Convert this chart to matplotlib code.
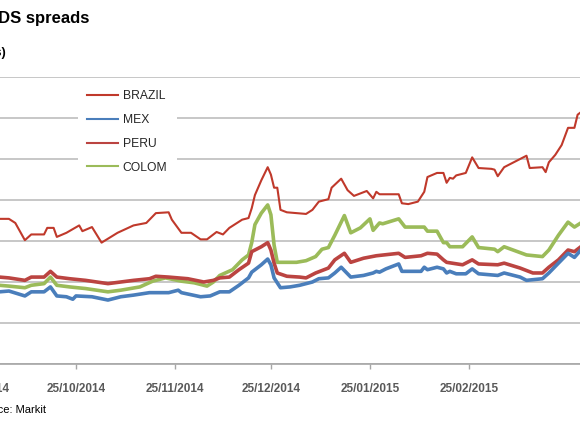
import matplotlib
matplotlib.use("Agg")
import matplotlib.pyplot as plt
import matplotlib.dates as mdates
from matplotlib.lines import Line2D
import pandas as pd

plt.rcParams['font.family'] = ['Liberation Sans', 'DejaVu Sans']

# ---- data (days relative to 25/10/2014, spreads in bps) ----
BASE = pd.Timestamp('2014-10-25')

brazil_days = [-24, -21, -19, -16, -14, -10, -9, -7, -6, -3, 1, 2, 5, 8, 13, 18, 22, 25, 29, 30,
               33, 36, 39, 41, 44, 46, 48, 52, 54, 55, 56, 58, 60, 61, 62, 63, 64, 66, 69, 72,
               74, 76, 79, 80, 83, 85, 87, 91, 93, 94, 95, 101, 102, 104, 107, 109, 110, 113, 115, 116,
               117, 118, 119, 122, 124, 126, 130, 131, 132, 134, 141, 142, 146, 147, 148, 150, 152, 154, 156, 157,
               158]
brazil_vals = [177, 177, 172, 151, 158, 158, 166, 166, 155, 160, 169, 162, 167, 148, 160, 169, 172, 184, 185, 176,
               160, 160, 152, 152, 161, 158, 166, 176, 178, 190, 206, 224, 240, 231, 215, 215, 188, 185, 184, 183,
               188, 198, 201, 215, 226, 212, 205, 211, 202, 210, 207, 207, 196, 195, 198, 210, 228, 233, 233, 221,
               227, 226, 230, 233, 252, 239, 238, 237, 229, 240, 254, 239, 240, 234, 246, 255, 267, 288, 288, 304,
               307]

mex_days = [-24, -21, -16, -14, -10, -8, -6, -3, -1, 0, 5, 10, 14, 18, 23, 29, 32, 33, 39, 42,
            45, 48, 51, 54, 55, 58, 60, 61, 62, 64, 67, 70, 74, 76, 79, 81, 83, 86, 90, 93,
            94, 95, 97, 101, 102, 108, 109, 110, 113, 115, 116, 117, 119, 122, 124, 126, 132, 134, 139, 141,
            146, 148, 151, 154, 156, 158]
mex_vals = [88, 89, 83, 88, 88, 94, 83, 82, 79, 83, 82, 78, 82, 84, 87, 87, 90, 87, 82, 83,
            88, 88, 96, 105, 112, 121, 128, 121, 105, 93, 94, 96, 100, 104, 105, 111, 118, 106, 108, 111,
            113, 112, 116, 122, 113, 113, 118, 115, 118, 116, 111, 113, 110, 110, 116, 110, 108, 111, 106, 102,
            104, 111, 123, 135, 130, 139]

peru_days = [-24, -21, -16, -14, -10, -8, -6, -2, 3, 10, 14, 18, 23, 25, 29, 35, 40, 43, 45, 48,
             51, 54, 55, 58, 60, 61, 62, 63, 66, 70, 72, 75, 79, 81, 84, 86, 90, 94, 101, 103,
             108, 110, 113, 115, 116, 121, 124, 126, 132, 134, 139, 143, 146, 148, 151, 154, 156, 158]
peru_vals = [106, 105, 102, 106, 106, 113, 106, 104, 102, 98, 100, 102, 104, 107, 106, 104, 100, 102, 105, 106,
             115, 123, 137, 143, 148, 139, 123, 111, 107, 106, 105, 111, 117, 127, 135, 124, 129, 132, 135, 130,
             132, 135, 134, 127, 124, 121, 127, 122, 121, 123, 117, 111, 111, 118, 127, 139, 137, 143]

colom_days = [-24, -21, -16, -14, -10, -8, -6, -2, 3, 10, 14, 20, 24, 28, 33, 37, 41, 43, 45, 49,
              52, 54, 55, 56, 58, 60, 61, 62, 63, 69, 72, 75, 77, 79, 81, 84, 86, 89, 92, 93,
              95, 96, 101, 103, 109, 110, 113, 115, 116, 117, 121, 124, 126, 131, 132, 134, 141, 146, 148, 151,
              154, 156, 158]
colom_vals = [96, 95, 93, 96, 98, 106, 96, 94, 92, 88, 90, 94, 101, 105, 101, 99, 95, 100, 108, 115,
              127, 133, 148, 170, 184, 194, 182, 145, 124, 124, 126, 131, 140, 142, 157, 181, 160, 166, 177, 163,
              172, 171, 177, 167, 167, 162, 162, 148, 148, 143, 143, 155, 142, 140, 137, 143, 133, 131, 139, 157,
              173, 167, 172]

series = [
    ('BRAZIL', brazil_days, brazil_vals, '#C0392B', 1.5),
    ('MEX', mex_days, mex_vals, '#4A7EBB', 2.6),
    ('PERU', peru_days, peru_vals, '#BB4441', 2.6),
    ('COLOM', colom_days, colom_vals, '#9BBB59', 2.6),
]

tick_dates = pd.to_datetime(['2014-09-25', '2014-10-25', '2014-11-25', '2014-12-25',
                             '2015-01-25', '2015-02-25'])
y_ticks = [0, 50, 100, 150, 200, 250, 300, 350]

W, H = 580, 429
fig = plt.figure(figsize=(W / 100, H / 100), dpi=100)
fig.patch.set_facecolor('white')

# axes extend beyond the left/right edges (cropped look)
left_px, right_px = -40, 600
top_px, bot_px = 77, 364
ax = fig.add_axes([left_px / W, 1 - bot_px / H, (right_px - left_px) / W, (bot_px - top_px) / H])

draw_order = ['COLOM', 'PERU', 'MEX', 'BRAZIL']
lookup = {s[0]: s for s in series}
for name in draw_order:
    n, d, v, c, lw = lookup[name]
    dates = BASE + pd.to_timedelta(d, unit='D')
    ax.plot(dates, v, color=c, lw=lw, solid_joinstyle='round', zorder=3)

px_per_day = 3.195
x0 = BASE + pd.Timedelta(days=(left_px - 76) / px_per_day)
x1 = BASE + pd.Timedelta(days=(right_px - 76) / px_per_day)
ax.set_xlim(x0, x1)
ax.set_ylim(0, 350)
ax.set_yticks(y_ticks)
ax.yaxis.grid(True, color='#BEBEBE', lw=1.2)
ax.set_axisbelow(True)
ax.tick_params(axis='y', left=False, labelleft=False)
ax.set_xticks(tick_dates)
ax.xaxis.set_major_formatter(mdates.DateFormatter('%d/%m/%Y'))
ax.tick_params(axis='x', direction='out', length=3.5, width=1, color='#A6A6A6',
               labelsize=8.5, labelcolor='#595959', pad=10.5)
for lab in ax.get_xticklabels():
    lab.set_fontweight('bold')
for s in ['top', 'left', 'right']:
    ax.spines[s].set_visible(False)
ax.spines['bottom'].set_color('#A6A6A6')
ax.spines['bottom'].set_linewidth(1.2)

handles = [Line2D([0], [0], color=s[3], lw=1.5) for s in series]
labels = [s[0] for s in series]
leg = fig.legend(handles, labels, loc='upper left', bbox_to_anchor=(78 / W, 1 - 81 / H),
                 bbox_transform=fig.transFigure, frameon=True, fancybox=False,
                 facecolor='white', edgecolor='none', framealpha=1, fontsize=8.7,
                 handlelength=2.56, handletextpad=0.4, labelspacing=0.98, borderpad=0.75,
                 borderaxespad=0)
for t in leg.get_texts():
    t.set_color('#262626')

fig.text(89 / W, 1 - 23 / H, 'LatAm 5Y CDS spreads', ha='right', va='baseline',
         fontsize=12, fontweight='bold', color='black')
fig.text(6 / W, 1 - 56 / H, '(bps)', ha='right', va='baseline', fontsize=9,
         fontweight='bold', color='black')
fig.text(46 / W, 1 - 413 / H, 'Source: Markit', ha='right', va='baseline', fontsize=8,
         color='black')

fig.savefig('out.png', dpi=100, facecolor='white')
